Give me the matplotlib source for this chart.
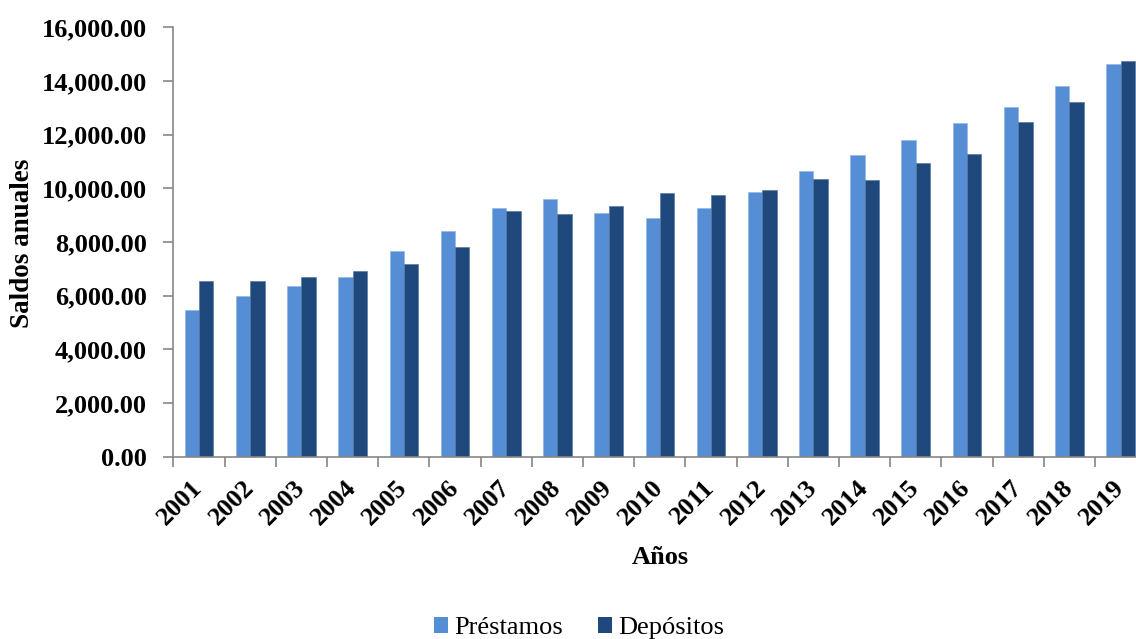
import matplotlib
matplotlib.use("Agg")
import matplotlib.pyplot as plt
from matplotlib.ticker import FuncFormatter, FixedLocator
from matplotlib.patches import Patch
import numpy as np

years = [str(y) for y in range(2001, 2020)]
prestamos = [5470, 5980, 6360, 6680, 7660, 8410, 9250, 9600, 9070, 8880,
             9270, 9860, 10660, 11250, 11790, 12420, 13030, 13820, 14630]
depositos = [6560, 6560, 6700, 6920, 7170, 7820, 9140, 9050, 9340, 9810,
             9750, 9940, 10360, 10310, 10940, 11280, 12460, 13220, 14730]

c_prest = "#558ED5"
c_dep = "#1F497D"
axis_grey = "#868686"
serif = ["Liberation Serif", "DejaVu Serif"]

plt.rcParams["font.family"] = serif

fig = plt.figure(figsize=(11.36, 6.39), dpi=100)
ax = fig.add_axes([0.1527, 0.2853, 0.8563, 0.672])

x = np.arange(len(years))
w = 0.28
ax.bar(x - w / 2, prestamos, width=w, color=c_prest, edgecolor="#8DB3E2",
       linewidth=0.4, zorder=2)
ax.bar(x + w / 2, depositos, width=w, color=c_dep, edgecolor="#4F6F99",
       linewidth=0.4, zorder=2)

ax.set_xlim(-0.5, len(years) - 0.5)
ax.set_ylim(0, 16000)
ax.set_yticks(np.arange(0, 16001, 2000))
ax.yaxis.set_major_formatter(FuncFormatter(lambda v, p: f"{v:,.2f}"))

# year labels at category centres, tick marks at category boundaries
ax.set_xticks(x)
ax.set_xticklabels(years, rotation=45, ha="right", va="center",
                   rotation_mode="anchor", fontsize=19, fontweight="bold")
ax.xaxis.set_minor_locator(FixedLocator(np.arange(-0.5, len(years), 1.0)))
ax.tick_params(axis="x", which="major", length=0, pad=20)
ax.tick_params(axis="x", which="minor", length=7, width=1.2, color=axis_grey,
               direction="out")
ax.tick_params(axis="y", length=7, width=1.2, color=axis_grey, direction="out",
               labelsize=19, pad=12)
for lab in ax.get_yticklabels():
    lab.set_fontweight("bold")

for s in ["top", "right"]:
    ax.spines[s].set_visible(False)
for s in ["left", "bottom"]:
    ax.spines[s].set_color(axis_grey)
    ax.spines[s].set_linewidth(1.2)

fig.text(0.020, 0.62, "Saldos anuales", rotation=90, ha="center", va="center",
         fontsize=19.5, fontweight="bold")
fig.text(0.581, 0.127, "Años", ha="center", va="center",
         fontsize=19, fontweight="bold")

handles = [Patch(facecolor=c_prest, edgecolor="none", label="Préstamos"),
           Patch(facecolor=c_dep, edgecolor="none", label="Depósitos")]
fig.legend(handles=handles, loc="center", bbox_to_anchor=(0.510, 0.017),
           ncol=2, frameon=False, prop={"family": serif, "size": 19},
           handlelength=0.53, handleheight=0.53, handletextpad=0.25,
           columnspacing=1.31)

fig.savefig("out.png", dpi=100, facecolor="white")
